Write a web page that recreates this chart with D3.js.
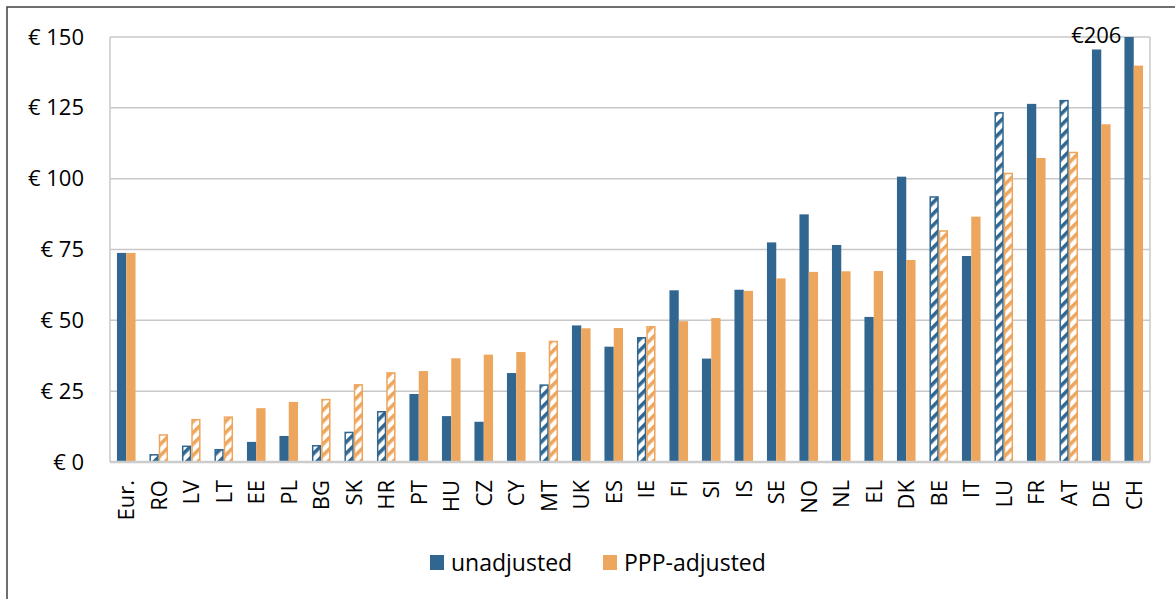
<!DOCTYPE html>
<html>
<head>
	<meta charset="utf-8">
	<script src="https://cdn.jsdelivr.net/npm/d3@7"></script>
	<style>
		body { margin: 0; background: #fff; }
		text { font-family: "Open Sans", sans-serif; fill: #000; }
	</style>
</head>
<body>
	<svg id="chart" width="1175" height="599"></svg>
	<script type="text/javascript">
		// data
		var countries = ["Eur.", "RO", "LV", "LT", "EE", "PL", "BG", "SK", "HR", "PT", "HU", "CZ", "CY", "MT", "UK", "ES", "IE", "FI", "SI", "IS", "SE", "NO", "NL", "EL", "DK", "BE", "IT", "LU", "FR", "AT", "DE", "CH"];
		var unadjusted = [73.8, 2.8, 5.8, 4.6, 7.1, 9.2, 6.0, 10.7, 18.0, 24.0, 16.2, 14.2, 31.4, 27.4, 48.2, 40.7, 44.1, 60.6, 36.5, 60.8, 77.5, 87.4, 76.6, 51.2, 100.7, 93.8, 72.7, 123.5, 126.4, 127.8, 145.6, 206];
		var pppAdjusted = [73.8, 9.8, 15.2, 16.1, 19.0, 21.2, 22.3, 27.5, 31.7, 32.1, 36.6, 37.9, 38.8, 42.8, 47.2, 47.3, 48.0, 49.7, 50.8, 60.4, 64.8, 67.1, 67.3, 67.4, 71.3, 81.8, 86.6, 102.1, 107.3, 109.5, 119.2, 139.9];
		// countries drawn with the hatched fill
		var hatched = ["RO", "LV", "LT", "BG", "SK", "HR", "MT", "IE", "BE", "LU", "AT"];
		var yTicks = [0, 25, 50, 75, 100, 125, 150];
		var seriesNames = ["unadjusted", "PPP-adjusted"];
		var colors = ["#30668F", "#EDA65E"];

		function drawChart() {
			var svg = d3.select("#chart");
			var plotLeft = 110, plotRight = 1150, plotTop = 37, plotBottom = 462;

			// outer frame (top and left only)
			svg.append("path")
				.attr("d", "M7,599 V7 H1175")
				.attr("fill", "none")
				.attr("stroke", "#404040")
				.attr("stroke-width", 1.5);

			var defs = svg.append("defs");
			colors.forEach(function(c, i) {
				var p = defs.append("pattern")
					.attr("id", "hatch" + i)
					.attr("patternUnits", "userSpaceOnUse")
					.attr("width", 8)
					.attr("height", 8)
					.attr("patternTransform", "rotate(-45)");
				p.append("rect").attr("width", 8).attr("height", 8).attr("fill", "#fff");
				p.append("rect").attr("width", 8).attr("height", 3.6).attr("fill", c);
			});

			var y = d3.scaleLinear().domain([0, 150]).range([plotBottom, plotTop]).clamp(true);
			var x0 = d3.scaleBand().domain(countries).range([plotLeft, plotRight])
				.paddingInner(0.428).paddingOuter(0.214);
			var x1 = d3.scaleBand().domain([0, 1]).range([0, x0.bandwidth()]);

			// grid
			svg.append("g").selectAll("line")
				.data(yTicks.slice(1))
				.enter().append("line")
				.attr("x1", plotLeft).attr("x2", plotRight)
				.attr("y1", function(d) { return y(d); })
				.attr("y2", function(d) { return y(d); })
				.attr("stroke", "#c8c8c8")
				.attr("stroke-width", 1.5);
			svg.append("line")
				.attr("x1", plotLeft).attr("x2", plotLeft).attr("y1", plotTop).attr("y2", plotBottom)
				.attr("stroke", "#c8c8c8").attr("stroke-width", 1.5);
			svg.append("line")
				.attr("x1", plotRight).attr("x2", plotRight).attr("y1", plotTop).attr("y2", plotBottom)
				.attr("stroke", "#c8c8c8").attr("stroke-width", 1.5);

			// y axis labels
			var yAxis = d3.axisLeft(y).tickValues(yTicks).tickSize(0).tickPadding(26)
				.tickFormat(function(d) { return "\u20ac " + d; });
			var yg = svg.append("g").attr("transform", "translate(" + plotLeft + ",0)").call(yAxis);
			yg.select(".domain").remove();
			yg.selectAll("text").style("font-size", "22px").style("font-family", "Open Sans, sans-serif");

			// bars
			var series = [unadjusted, pppAdjusted];
			var groups = svg.append("g").selectAll("g")
				.data(countries)
				.enter().append("g")
				.attr("transform", function(d) { return "translate(" + x0(d) + ",0)"; });

			groups.selectAll("rect")
				.data(function(d, i) {
					return series.map(function(s, k) {
						return {k: k, value: s[i], hatch: hatched.indexOf(d) >= 0};
					});
				})
				.enter().append("rect")
				.attr("x", function(d) { return x1(d.k) + (d.hatch ? 0.75 : 0); })
				.attr("width", function(d) { return x1.bandwidth() - (d.hatch ? 1.5 : 0); })
				.attr("y", function(d) { return y(d.value) + (d.hatch ? 0.75 : 0); })
				.attr("height", function(d) { return y(0) - y(d.value) - (d.hatch ? 0.75 : 0); })
				.attr("fill", function(d) { return d.hatch ? "url(#hatch" + d.k + ")" : colors[d.k]; })
				.attr("stroke", function(d) { return d.hatch ? colors[d.k] : "none"; })
				.attr("stroke-width", 1.5);

			// bottom axis line
			svg.append("line")
				.attr("x1", plotLeft).attr("x2", plotRight).attr("y1", plotBottom).attr("y2", plotBottom)
				.attr("stroke", "#cccccc").attr("stroke-width", 2.5);

			// x labels
			var xAxis = d3.axisBottom(x0).tickSize(0);
			var xg = svg.append("g").attr("transform", "translate(0," + plotBottom + ")").call(xAxis);
			xg.select(".domain").remove();
			xg.selectAll("text")
				.style("font-size", "22px")
				.style("font-family", "Open Sans, sans-serif")
				.attr("text-anchor", "end")
				.attr("transform", "rotate(-90)")
				.attr("x", -18)
				.attr("y", 0)
				.attr("dy", "0.36em");

			// label for the clipped CH bar
			var last = countries.length - 1;
			svg.append("text")
				.attr("x", x0(countries[last]) + x1(0) - 3)
				.attr("y", 43)
				.attr("text-anchor", "end")
				.style("font-size", "22px")
				.text("\u20ac" + unadjusted[last]);

			// legend
			var legendX = [430, 603];
			var legend = svg.append("g").selectAll("g")
				.data(seriesNames)
				.enter().append("g")
				.attr("transform", function(d, i) { return "translate(" + legendX[i] + ",555)"; });
			legend.append("rect").attr("width", 14).attr("height", 15)
				.attr("fill", function(d, i) { return colors[i]; });
			legend.append("text")
				.attr("x", 21).attr("y", 8).attr("dy", "0.35em")
				.style("font-size", "23px")
				.text(function(d) { return d; });
		}
		drawChart();
	</script>
</body>
</html>
